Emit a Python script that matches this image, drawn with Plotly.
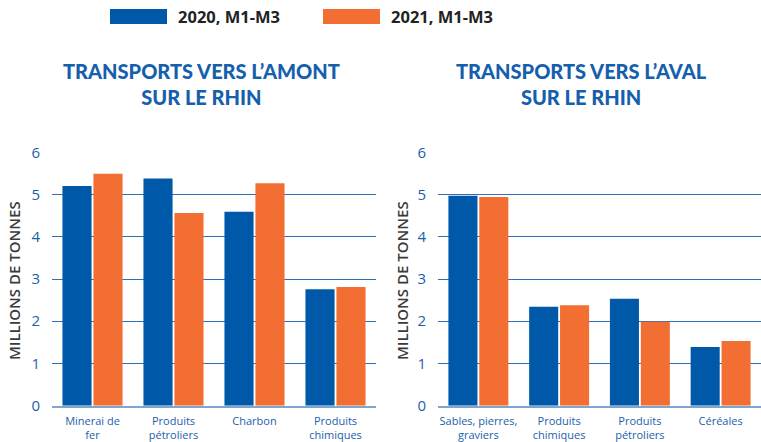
import plotly.graph_objects as go

series_names = ["2020, M1-M3", "2021, M1-M3"]
colors = ["#0059a8", "#f26e32"]

amont_cats = ["Minerai de<br>fer", "Produits<br>pétroliers", "Charbon", "Produits<br>chimiques"]
amont_2020 = [5.20, 5.38, 4.59, 2.76]
amont_2021 = [5.49, 4.56, 5.27, 2.81]

aval_cats = ["Sables, pierres,<br>graviers", "Produits<br>chimiques", "Produits<br>pétroliers", "Céréales"]
aval_2020 = [4.97, 2.34, 2.53, 1.39]
aval_2021 = [4.94, 2.38, 1.99, 1.53]

titles = ["TRANSPORTS VERS L’AMONT<br>SUR LE RHIN", "TRANSPORTS VERS L’AVAL<br>SUR LE RHIN"]
y_title = "MILLIONS DE TONNES"
y_ticks = [0, 1, 2, 3, 4, 5, 6]

W, H = 761, 442
BLUE_TXT = "#1b5fab"

fig = go.Figure()
for i, vals in enumerate([amont_2020, amont_2021]):
    fig.add_trace(go.Bar(x=amont_cats, y=vals, name=series_names[i], marker_color=colors[i],
                         marker_line_width=0, xaxis="x", yaxis="y", showlegend=False))
for i, vals in enumerate([aval_2020, aval_2021]):
    fig.add_trace(go.Bar(x=aval_cats, y=vals, name=series_names[i], marker_color=colors[i],
                         marker_line_width=0, xaxis="x2", yaxis="y2", showlegend=False))

y_dom = [(H - 405.7) / H, (H - 152.3) / H]
common_y = dict(range=[0, 6], tickvals=y_ticks, showgrid=True, gridcolor="#2f6fb7", gridwidth=1,
                zeroline=False, showline=False, ticks="",
                tickfont=dict(family="Open Sans", size=15, color=BLUE_TXT),
                ticklabelstandoff=11, domain=y_dom, fixedrange=True)
common_x = dict(showgrid=False, zeroline=False, showline=True, linecolor="#7ea6d0", linewidth=2,
                ticks="", tickfont=dict(family="Open Sans", size=11, color=BLUE_TXT),
                ticklabelstandoff=4, tickangle=0, fixedrange=True)

fig.update_layout(
    width=W, height=H, margin=dict(l=0, r=0, t=0, b=0, autoexpand=False),
    paper_bgcolor="white", plot_bgcolor="white",
    barmode="group", bargap=0.235, bargroupgap=0.06,
    xaxis=dict(domain=[52 / W, 376 / W], anchor="y", **common_x),
    xaxis2=dict(domain=[438 / W, 1.0], anchor="y2", **common_x),
    yaxis=dict(anchor="x", **common_y),
    yaxis2=dict(anchor="x2", **common_y),
)

# Subplot titles
for xc, t in zip([201, 581], titles):
    fig.add_annotation(x=xc / W, y=1 - 84 / H, xref="paper", yref="paper", text=t, showarrow=False,
                       font=dict(family="Lato", size=20, color="#1560ad", weight=900),
                       xanchor="center", yanchor="middle", align="center")

# Axis titles
for xc in [14, 402]:
    fig.add_annotation(x=xc / W, y=1 - 281 / H, xref="paper", yref="paper", text=y_title,
                       showarrow=False, textangle=-90,
                       font=dict(family="Open Sans", size=15, color="#3a3a3a", weight=600),
                       xanchor="center", yanchor="middle")

# Legend
legend_x = [110, 323]
for x0, name, c in zip(legend_x, series_names, colors):
    fig.add_shape(type="rect", xref="paper", yref="paper", x0=x0 / W, x1=(x0 + 57) / W,
                  y0=1 - 24 / H, y1=1 - 9 / H, fillcolor=c, line_width=0)
    fig.add_annotation(x=(x0 + 66) / W, y=1 - 17 / H, xref="paper", yref="paper", text=name,
                       showarrow=False, xanchor="left", yanchor="middle",
                       font=dict(family="Noto Sans", size=16.5, color="#222222", weight="bold"))

fig.write_html("out.html", config={"displayModeBar": False},
               post_script="document.body.style.margin='0';")
